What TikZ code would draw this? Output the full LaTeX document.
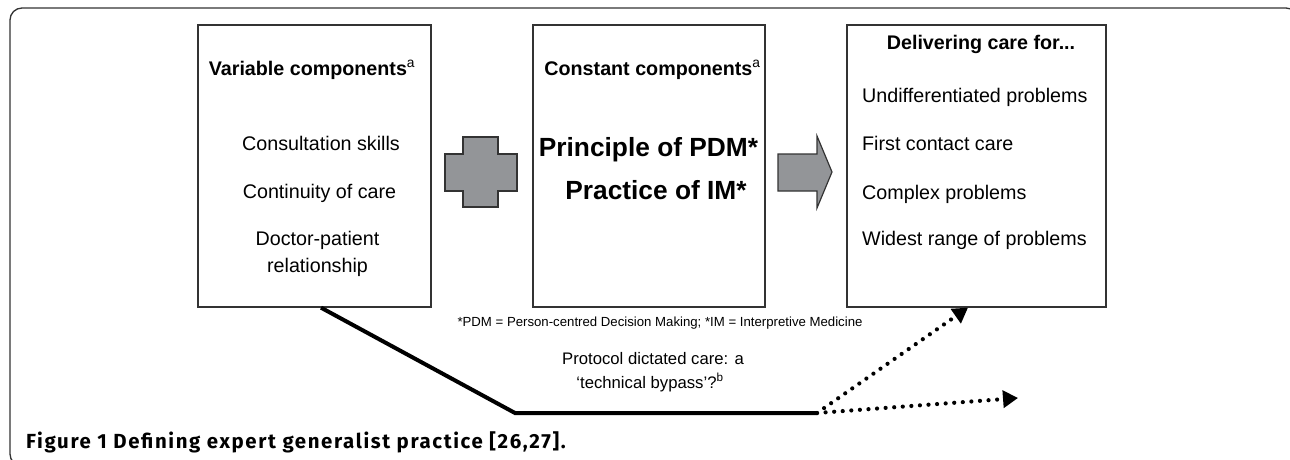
\documentclass[tikz,border=0pt]{standalone}
\usepackage{fontspec}
\setmainfont{Liberation Sans}
\newfontfamily\capfont[LetterSpace=8]{Fira Sans}
\usetikzlibrary{arrows.meta,calc}

\definecolor{boxline}{HTML}{333333}
\definecolor{shapegray}{HTML}{939598}

\tikzset{
  compbox/.style={draw=boxline, line width=1.3pt, minimum width=#1, minimum height=282pt, inner sep=0pt},
  boxtext/.style={anchor=base, inner sep=0pt, font=\fontsize{19.7}{23}\selectfont},
  listtext/.style={boxtext, anchor=base west},
  bigtext/.style={anchor=base, inner sep=0pt, font=\bfseries\fontsize{26.3}{30}\selectfont},
  bypass/.style={line width=4pt, line join=miter},
  dotarrow/.style={line width=4.2pt, line cap=round, dash pattern=on 0pt off 8.6pt, -{Triangle[length=15pt,width=17pt]}},
}

\begin{document}
\begin{tikzpicture}[x=1pt,y=-1pt]
\useasboundingbox (0,0) rectangle (1290,460);
% outer frame, cut off at the right and bottom
\begin{scope}
  \clip (0,0) rectangle (1290,460);
  \draw[boxline, line width=1.3pt, rounded corners=12pt] (10,8) rectangle (1298,466);
\end{scope}

% the three boxes
\node[compbox=233pt] (var) at (314.5,166) {};
\node[compbox=232pt] (const) at (649,166) {};
\node[compbox=259pt] (care) at (976.5,166) {};

% plus and arrow between them
\draw[boxline, fill=shapegray, line width=1.2pt] (463,137) -- (498,137) -- (498,154) -- (517,154) -- (517,191) -- (498,191)
  -- (498,207) -- (463,207) -- (463,191) -- (445,191) -- (445,154) -- (463,154) -- cycle;
\draw[boxline, fill=shapegray, line width=1.2pt] (778,154) -- (817,154) -- (817,136) -- (832,172) -- (817,208) -- (817,191)
  -- (778,191) -- cycle;

% variable components
\node[boxtext] (var0) at (312,75) {\textbf{Variable components}\textsuperscript{a}};
\node[boxtext] (var1) at (321,150) {Consultation skills};
\node[boxtext] (var2) at (319.5,198) {Continuity of care};
\node[boxtext] (var3) at (317.5,245) {Doctor-patient};
\node[boxtext] (var4) at (317.5,272) {relationship};

% constant components
\node[boxtext] (const0) at (652.5,75) {\textbf{Constant components}\textsuperscript{a}};
\node[bigtext] (const1) at (648.5,156) {Principle of PDM*};
\node[bigtext] (const2) at (656,199) {Practice of IM*};

% delivering care
\node[boxtext] (care0) at (981,49) {\textbf{Delivering care for...}};
\node[listtext] (care1) at (862,102) {Undifferentiated problems};
\node[listtext] (care2) at (862,150) {First contact care};
\node[listtext] (care3) at (862,199) {Complex problems};
\node[listtext] (care4) at (862,245) {Widest range of problems};

\node[anchor=base, inner sep=0pt, font=\fontsize{13.2}{15}\selectfont] (note) at (660,326)
  {*PDM = Person-centred Decision Making; *IM = Interpretive Medicine};

% the bypass
\node[anchor=base, inner sep=0pt, font=\fontsize{16.7}{20}\selectfont] (proto1) at (653,364) {Protocol dictated care: a};
\node[anchor=base, inner sep=0pt, font=\fontsize{16.7}{20}\selectfont] (proto2) at (650,388) {`technical bypass'?\textsuperscript{b}};
\coordinate (bend) at (515,413);
\coordinate (split) at (817,413);
\coordinate (ahead) at (1018,398);
\draw[bypass] ($(var.south)+(6.5,0)$) -- (bend) -- (split);
\draw[dotarrow] (split) -- ($(care.south)+(-8.5,0)$);
\draw[dotarrow] (split) -- (ahead);

\node[anchor=base west, inner sep=0pt, font=\capfont\bfseries\fontsize{20.4}{22}\selectfont] (caption) at (26,448)
  {Figure 1 Defining expert generalist practice [26,27].};
\end{tikzpicture}
\end{document}
